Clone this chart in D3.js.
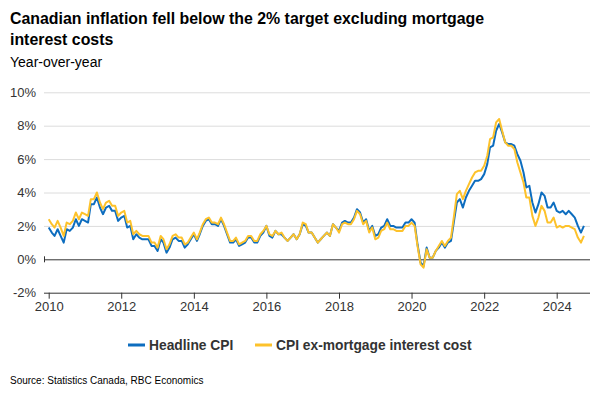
<!DOCTYPE html>
<html>
<head>
<meta charset="utf-8">
<script src="https://cdn.jsdelivr.net/npm/d3@7"></script>
<style>
  html, body { margin: 0; padding: 0; background: #fff; }
  svg { display: block; font-family: "Liberation Sans", Arial, sans-serif; }
</style>
</head>
<body>
<svg id="chart" width="600" height="400"></svg>
<script>
// ---- Data (monthly, Jan 2010 – Oct 2024) ----
const startYear = 2010;
const headline = [
  1.9,1.6,1.4,1.8,1.4,1.0,1.8,1.7,1.9,2.4,2.0,2.4,
  2.3,2.2,3.3,3.3,3.7,3.1,2.7,3.1,3.2,2.9,2.9,2.3,
  2.5,2.6,1.9,2.0,1.2,1.5,1.3,1.2,1.2,1.2,0.8,0.8,
  0.5,1.2,1.0,0.4,0.7,1.2,1.3,1.1,1.1,0.7,0.9,1.2,
  1.5,1.1,1.5,2.0,2.3,2.4,2.1,2.1,2.0,2.4,2.0,1.5,
  1.0,1.0,1.2,0.8,0.9,1.0,1.3,1.3,1.0,1.0,1.4,1.6,
  2.0,1.4,1.3,1.7,1.5,1.5,1.3,1.1,1.3,1.5,1.2,1.5,
  2.1,2.0,1.6,1.6,1.3,1.0,1.2,1.4,1.6,1.4,2.1,1.9,
  1.7,2.2,2.3,2.2,2.2,2.5,3.0,2.8,2.2,2.4,1.7,2.0,
  1.4,1.5,1.9,2.0,2.4,2.0,2.0,1.9,1.9,1.9,2.2,2.2,
  2.4,2.2,0.9,-0.2,-0.4,0.7,0.1,0.1,0.5,0.7,1.0,0.7,
  1.0,1.1,2.2,3.4,3.6,3.1,3.7,4.1,4.4,4.7,4.7,4.8,
  5.1,5.7,6.7,6.8,7.7,8.1,7.6,7.0,6.9,6.9,6.8,6.3,
  5.9,5.2,4.3,4.4,3.4,2.8,3.3,4.0,3.8,3.1,3.1,3.4,
  2.9,2.8,2.9,2.7,2.9,2.7,2.5,2.0,1.6,2.0
];
const exMortgage = [
  2.4,2.1,1.9,2.3,1.9,1.4,2.2,2.1,2.3,2.8,2.4,2.8,
  2.7,2.6,3.6,3.6,4.0,3.4,3.0,3.4,3.5,3.2,3.2,2.6,
  2.8,2.9,2.2,2.3,1.5,1.7,1.5,1.4,1.4,1.4,1.0,1.0,
  0.7,1.4,1.2,0.6,0.9,1.4,1.5,1.3,1.3,0.9,1.0,1.3,
  1.6,1.2,1.6,2.1,2.4,2.5,2.2,2.2,2.1,2.5,2.1,1.6,
  1.1,1.1,1.3,0.9,1.0,1.1,1.4,1.4,1.1,1.1,1.5,1.7,
  2.0,1.5,1.4,1.7,1.5,1.6,1.3,1.1,1.3,1.5,1.2,1.5,
  2.2,2.1,1.6,1.6,1.3,1.0,1.2,1.4,1.6,1.4,2.1,1.9,
  1.6,2.1,2.2,2.1,2.1,2.4,2.9,2.7,2.1,2.3,1.6,1.9,
  1.2,1.3,1.7,1.8,2.2,1.8,1.8,1.7,1.7,1.7,2.0,2.0,
  2.2,2.0,0.8,-0.3,-0.5,0.6,0.1,0.1,0.5,0.8,1.1,0.8,
  1.1,1.3,2.5,3.9,4.1,3.6,4.1,4.5,4.9,5.2,5.3,5.3,
  5.6,6.2,7.2,7.3,8.2,8.4,7.7,7.0,6.8,6.8,6.6,5.8,
  5.2,4.6,3.7,3.7,2.6,2.0,2.5,3.2,2.9,2.2,2.2,2.5,
  1.9,2.0,1.9,2.0,2.0,1.9,1.8,1.3,1.0,1.4
];
const yTicks = [-2, 0, 2, 4, 6, 8, 10];
const xTickYears = [2010, 2012, 2014, 2016, 2018, 2020, 2022, 2024];
const seriesNames = ["Headline CPI", "CPI ex-mortgage interest cost"];
const seriesColors = ["#0d6dbf", "#fdc22b"];

const dates = headline.map((_, i) => new Date(startYear, i, 1));

const svg = d3.select("#chart");

// Titles
svg.append("text").attr("x", 10).attr("y", 24)
  .attr("font-size", 15.9).attr("font-weight", "bold").attr("fill", "#000")
  .text("Canadian inflation fell below the 2% target excluding mortgage");
svg.append("text").attr("x", 10).attr("y", 45)
  .attr("font-size", 15.9).attr("font-weight", "bold").attr("fill", "#000")
  .text("interest costs");
svg.append("text").attr("x", 10).attr("y", 67)
  .attr("font-size", 14).attr("fill", "#000")
  .text("Year-over-year");

// Scales
const x = d3.scaleTime()
  .domain([new Date(2010, 0, 1), new Date(2024, 0, 1)])
  .range([48.7, 556.7]);
const y = d3.scaleLinear().domain([-2, 10]).range([292.7, 92.3]);
const plotLeft = 44, plotRight = 590;

// Gridlines + y labels
const gy = svg.append("g").attr("transform", `translate(${plotLeft},0)`)
  .call(d3.axisLeft(y).tickValues(yTicks).tickFormat(d => d + "%")
    .tickSize(-(plotRight - plotLeft)).tickPadding(8));
gy.select(".domain").remove();
gy.selectAll(".tick line").attr("stroke", "#dcdcdc").attr("stroke-width", 1);
gy.selectAll(".tick text").attr("font-size", 13).attr("fill", "#333")
  .attr("font-family", "Liberation Sans, Arial, sans-serif");
gy.selectAll(".tick").filter(d => d === 0 || d === -2).select("line")
  .attr("stroke", "#333");

// zero-line left tick
svg.append("line").attr("x1", plotLeft + 0.5).attr("x2", plotLeft + 0.5)
  .attr("y1", y(0) - 3).attr("y2", y(0) + 3).attr("stroke", "#333");

// X axis at bottom
const gx = svg.append("g").attr("transform", `translate(0,${y(-2)})`)
  .call(d3.axisBottom(x).tickValues(xTickYears.map(yr => new Date(yr, 0, 1)))
    .tickFormat(d3.timeFormat("%Y")).tickSize(6).tickSizeOuter(0).tickPadding(3));
gx.select(".domain").remove();
gx.selectAll(".tick line").attr("stroke", "#333");
gx.selectAll(".tick text").attr("font-size", 13).attr("fill", "#333")
  .attr("font-family", "Liberation Sans, Arial, sans-serif");

// Lines
const line = d3.line().x((d, i) => x(dates[i])).y(d => y(d));
[headline, exMortgage].forEach((s, k) => {
  svg.append("path").datum(s)
    .attr("fill", "none").attr("stroke", seriesColors[k])
    .attr("stroke-width", 2).attr("stroke-linejoin", "round")
    .attr("d", line);
});

// Legend
const legendItems = [
  { x: 128, tx: 149 },
  { x: 255, tx: 276 }
];
legendItems.forEach((it, k) => {
  svg.append("line").attr("x1", it.x).attr("x2", it.x + 17)
    .attr("y1", 345).attr("y2", 345)
    .attr("stroke", seriesColors[k]).attr("stroke-width", 3);
  svg.append("text").attr("x", it.tx).attr("y", 350)
    .attr("font-size", 13.8).attr("font-weight", "bold").attr("fill", "#333")
    .text(seriesNames[k]);
});

// Source
svg.append("text").attr("x", 10).attr("y", 384)
  .attr("font-size", 10).attr("fill", "#000")
  .text("Source: Statistics Canada, RBC Economics");
</script>
</body>
</html>
